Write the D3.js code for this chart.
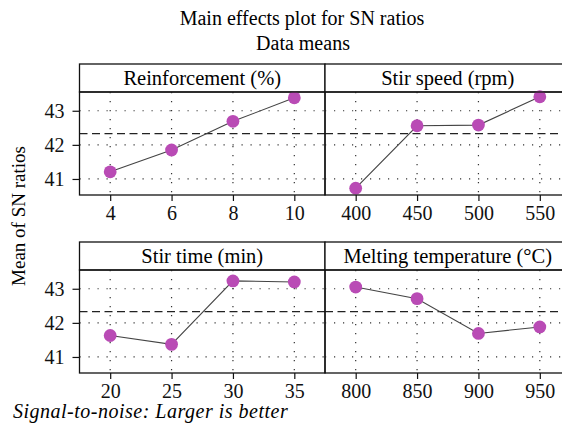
<!DOCTYPE html>
<html>
<head>
<meta charset="utf-8">
<script src="https://cdn.jsdelivr.net/npm/d3@7"></script>
<style>
  body { margin: 0; background: #fff; }
</style>
</head>
<body>
<div id="chart"></div>
<script>
const factors = ["Reinforcement (%)", "Stir speed (rpm)", "Stir time (min)", "Melting temperature (°C)"];
const levels = [
    [4, 6, 8, 10],
    [400, 450, 500, 550],
    [20, 25, 30, 35],
    [800, 850, 900, 950]
];
const snMeans = [
    [41.21, 41.85, 42.69, 43.38],
    [40.73, 42.56, 42.58, 43.41],
    [41.63, 41.37, 43.23, 43.20],
    [43.05, 42.71, 41.69, 41.88]
];
const overallMean = 42.33;
const yTicks = [41, 42, 43];

const FONT = '"Liberation Serif"';
const W = 562, H = 436;
const panelW = 245.5;
const colX = [79.5, 325];
const rowY = [64, 242];      // strip top
const stripH = 28;
const plotH = 103;

const svg = d3.select("#chart").append("svg")
    .attr("width", W)
    .attr("height", H);

svg.append("text")
    .attr("x", 302)
    .attr("y", 25)
    .attr("text-anchor", "middle")
    .style("font-family", FONT)
    .style("font-size", "20px")
    .text("Main effects plot for SN ratios");

svg.append("text")
    .attr("x", 303)
    .attr("y", 50)
    .attr("text-anchor", "middle")
    .style("font-family", FONT)
    .style("font-size", "20px")
    .text("Data means");

svg.append("text")
    .attr("transform", "rotate(-90)")
    .attr("x", -216)
    .attr("y", 25)
    .attr("text-anchor", "middle")
    .style("font-family", FONT)
    .style("font-size", "19px")
    .text("Mean of SN ratios");

svg.append("text")
    .attr("x", 13)
    .attr("y", 418)
    .style("font-family", FONT)
    .style("font-size", "20px")
    .style("font-style", "italic")
    .style("letter-spacing", "0.5px")
    .text("Signal-to-noise: Larger is better");

const y = d3.scaleLinear()
    .domain([40.53, 43.55])
    .range([plotH, 0]);

factors.forEach((name, i) => {
    const px = colX[i % 2];
    const py = rowY[Math.floor(i / 2)];
    const g = svg.append("g")
        .attr("transform", `translate(${px},${py})`);

    const x = d3.scalePoint()
        .domain(levels[i])
        .range([0, panelW])
        .padding(0.5);

    // strip header
    g.append("rect")
        .attr("width", panelW)
        .attr("height", stripH)
        .attr("fill", "#fff")
        .attr("stroke", "#111")
        .attr("stroke-width", 1.3);

    g.append("text")
        .attr("x", panelW / 2)
        .attr("y", stripH / 2)
        .attr("dy", "0.35em")
        .attr("text-anchor", "middle")
        .style("font-family", FONT)
        .style("font-size", "20.5px")
        .text(name);

    const p = g.append("g")
        .attr("transform", `translate(0,${stripH})`);

    // dotted grid
    p.selectAll(".hgrid")
        .data(yTicks)
        .enter().append("line")
        .attr("x1", 0).attr("x2", panelW)
        .attr("y1", d => y(d)).attr("y2", d => y(d))
        .attr("stroke", "#333")
        .attr("stroke-width", 1.2)
        .attr("stroke-dasharray", "1.2,7.8");

    p.selectAll(".vgrid")
        .data(levels[i])
        .enter().append("line")
        .attr("x1", d => x(d)).attr("x2", d => x(d))
        .attr("y1", 0).attr("y2", plotH)
        .attr("stroke", "#333")
        .attr("stroke-width", 1.2)
        .attr("stroke-dasharray", "1.2,7.8");

    p.append("line")
        .attr("x1", 0).attr("x2", panelW)
        .attr("y1", y(overallMean)).attr("y2", y(overallMean))
        .attr("stroke", "#222")
        .attr("stroke-width", 1.3)
        .attr("stroke-dasharray", "8,4.5");

    const pts = levels[i].map((lv, j) => [lv, snMeans[i][j]]);

    p.append("path")
        .datum(pts)
        .attr("fill", "none")
        .attr("stroke", "#444")
        .attr("stroke-width", 1.1)
        .attr("d", d3.line().x(d => x(d[0])).y(d => y(d[1])));

    p.selectAll("circle")
        .data(pts)
        .enter().append("circle")
        .attr("cx", d => x(d[0]))
        .attr("cy", d => y(d[1]))
        .attr("r", 6.4)
        .attr("fill", "#b94bb5");

    p.append("rect")
        .attr("width", panelW)
        .attr("height", plotH)
        .attr("fill", "none")
        .attr("stroke", "#111")
        .attr("stroke-width", 1.3);

    const xa = p.append("g")
        .attr("transform", `translate(0,${plotH})`)
        .call(d3.axisBottom(x).tickSize(6).tickPadding(5));
    xa.select(".domain").remove();
    xa.selectAll("line").attr("stroke", "#111").attr("stroke-width", 1.2);
    xa.selectAll("text")
        .attr("fill", "#111")
        .style("font-family", FONT)
        .style("font-size", "20px");

    if (i % 2 === 0) {
        const ya = p.append("g")
            .call(d3.axisLeft(y).tickValues(yTicks).tickFormat(d3.format("d")).tickSize(7).tickPadding(8));
        ya.select(".domain").remove();
        ya.selectAll("line").attr("stroke", "#111").attr("stroke-width", 1.2);
        ya.selectAll("text")
            .attr("fill", "#111")
            .style("font-family", FONT)
            .style("font-size", "20px");
    }
});
</script>
</body>
</html>
